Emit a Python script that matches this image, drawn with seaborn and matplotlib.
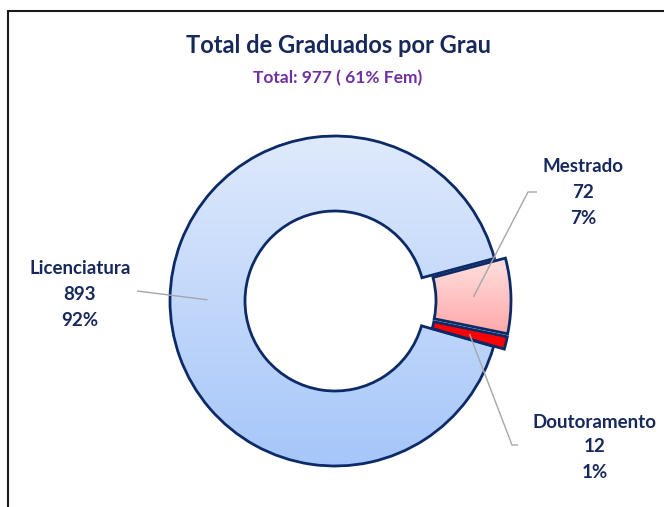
import numpy as np
import matplotlib
matplotlib.use("Agg")
import matplotlib.pyplot as plt
import seaborn as sns
from matplotlib.colors import LinearSegmentedColormap

# data
categories = ["Licenciatura", "Mestrado", "Doutoramento"]
counts = [893, 72, 12]
percent_labels = ["92%", "7%", "1%"]
title = "Total de Graduados por Grau"
subtitle = "Total: 977 ( 61% Fem)"

# style
sns.set_theme(style="white")
plt.rcParams["font.family"] = ["Lato", "DejaVu Sans"]
navy_edge = "#0c2a68"
navy_text = "#17295c"
purple = "#7030a0"
gradients = [("#a6c6f9", "#dfeafc"), ("#ffa8a8", "#ffe0e0"), ("#ff0000", "#ff0000")]

W, H = 664, 507
fig = plt.figure(figsize=(W / 100, H / 100), dpi=100)
ax = fig.add_axes([0, 0, 1, 1])

# geometry in pixel units (y measured from bottom)
cx, cy = 335, H - 301
R, ring = 165, 75
explode_px = [0, 11, 11]

wedges, _ = ax.pie(
    counts,
    center=(cx, cy),
    radius=R,
    startangle=-16,
    counterclock=False,
    explode=explode_px,
    wedgeprops=dict(width=ring, edgecolor=navy_edge, linewidth=2, facecolor="none"),
)

# gradient fills clipped to each wedge
grad = np.linspace(0, 1, 256).reshape(-1, 1)
for w, (c_bottom, c_top) in zip(wedges, gradients):
    ext = w.get_path().get_extents()
    cmap = LinearSegmentedColormap.from_list("g", [c_bottom, c_top])
    im = ax.imshow(
        grad,
        extent=[ext.x0, ext.x1, ext.y0, ext.y1],
        origin="lower",
        cmap=cmap,
        aspect="auto",
        zorder=0.5,
        interpolation="bilinear",
    )
    im.set_clip_path(w)
    w.set_zorder(2)


def mid_point(w):
    ang = np.deg2rad((w.theta1 + w.theta2) / 2)
    rm = w.r - w.width / 2
    return w.center[0] + rm * np.cos(ang), w.center[1] + rm * np.sin(ang)


# leader lines (label side points in pixels from top)
leader_paths = [
    [(137, 291)],
    [(537, 192), (528, 192)],
    [(518, 445), (512, 445)],
]
for w, pts in zip(wedges, leader_paths):
    xs = [p[0] for p in pts]
    ys = [H - p[1] for p in pts]
    mx, my = mid_point(w)
    xs.append(mx)
    ys.append(my)
    ax.plot(xs, ys, color="#a6a6a6", lw=1, zorder=3, solid_capstyle="butt")

# labels
label_pos = [(80, [268, 294, 320]), (583, [167, 193, 219]), (595, [422, 447, 472])]
for cat, n, pct, (lx, lys) in zip(categories, counts, percent_labels, label_pos):
    for txt, ly in zip([cat, str(n), pct], lys):
        ax.text(lx, H - ly, txt, ha="center", va="center", fontsize=13.5,
                fontweight="bold", color=navy_text, zorder=4)

# titles
ax.text(338, H - 53, title, ha="center", va="baseline", fontsize=17,
        fontweight="bold", color=navy_text)
ax.text(338, H - 83, subtitle, ha="center", va="baseline", fontsize=12.5,
        fontweight="bold", color=purple)

# frame
ax.plot([8, 8], [0, H - 11], color="#1a1a1a", lw=1.5, clip_on=False)
ax.plot([8, W], [H - 11, H - 11], color="#1a1a1a", lw=1.5, clip_on=False)

ax.set_xlim(0, W)
ax.set_ylim(0, H)
ax.set_aspect("equal")
ax.set_axis_off()

fig.savefig("out.png", dpi=100)
